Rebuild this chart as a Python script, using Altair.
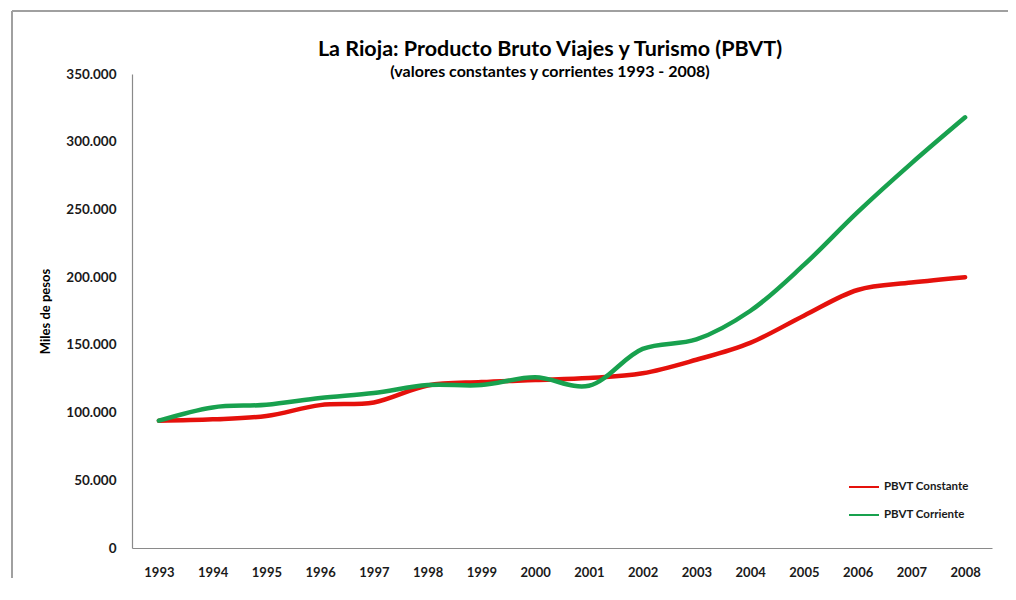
import altair as alt
import pandas as pd

years = [str(y) for y in range(1993, 2009)]
constante = [94000, 95000, 97500, 105500, 107500, 120000, 122500, 124000,
             125500, 129000, 139000, 151500, 171500, 190500, 196000, 200000]
corriente = [94000, 103800, 105800, 110800, 114500, 120300, 120300, 126000,
             119800, 147000, 154000, 175000, 209000, 248000, 284000, 318000]
series_names = ["PBVT Constante", "PBVT Corriente"]
series_colors = ["#E5110C", "#18A14E"]

rows = []
for name, vals in zip(series_names, [constante, corriente]):
    for y, v in zip(years, vals):
        rows.append({"Año": y, "Valor": v, "Serie": name})
df = pd.DataFrame(rows)

FONT = "Lato"

lines = alt.Chart(df).mark_line(
    interpolate="catmull-rom", strokeWidth=4.5, strokeCap="round", strokeJoin="round"
).encode(
    x=alt.X("Año:O", sort=years, scale=alt.Scale(paddingOuter=0.5),
            axis=alt.Axis(title=None, labelAngle=0, ticks=False, labelPadding=18,
                          labelFontSize=13, labelFontWeight="bold", labelColor="#1a1a1a",
                          domainColor="#8a8a8a", domainWidth=1.2)),
    y=alt.Y("Valor:Q", scale=alt.Scale(domain=[0, 350000], nice=False),
            axis=alt.Axis(title="Miles de pesos", values=list(range(0, 350001, 50000)),
                          labelExpr="replace(format(datum.value, ','), ',', '.')",
                          ticks=False, grid=False, labelPadding=16,
                          labelFontSize=13.5, labelFontWeight="bold", labelColor="#1a1a1a",
                          domainColor="#8a8a8a", domainWidth=1.2,
                          titleFontSize=13, titleFontWeight="bold", titleColor="#000000",
                          titleAngle=270, titleX=-87, titleY=237,
                          titleAlign="center", titleBaseline="middle")),
    color=alt.Color("Serie:N", scale=alt.Scale(domain=series_names, range=series_colors),
                    legend=alt.Legend(title=None, orient="none", legendX=716, legendY=397,
                                      symbolType="stroke", symbolSize=900,
                                      symbolStrokeWidth=2, rowPadding=6,
                                      labelFontSize=11.5, labelFontWeight="bold",
                                      labelColor="#1a1a1a", labelOffset=4)),
)

frame_top = alt.Chart(df).mark_rule(color="#a0a0a0", strokeWidth=1.5, clip=False).encode(
    x=alt.value(-120), x2=alt.value(876), y=alt.value(-63), y2=alt.value(-63)
)
frame_left = alt.Chart(df).mark_rule(color="#a0a0a0", strokeWidth=1.5, clip=False).encode(
    x=alt.value(-120), x2=alt.value(-120), y=alt.value(-63), y2=alt.value(520)
)

chart = alt.layer(frame_top, frame_left, lines).properties(
    width=860, height=474,
    title=alt.TitleParams(
        text="La Rioja: Producto Bruto Viajes y Turismo (PBVT)",
        subtitle="(valores constantes y corrientes 1993 - 2008)",
        anchor="middle", frame="group", dx=-12, offset=-70,
        fontSize=21.5, fontWeight="bold", color="#000000", font=FONT,
        subtitleFontSize=16, subtitleFontWeight="bold", subtitleColor="#000000",
        subtitleFont=FONT, subtitlePadding=4,
    ),
    autosize=alt.AutoSizeParams(type="none"),
    padding={"left": 124, "top": 66, "right": 16, "bottom": 30},
).configure(font=FONT).configure_view(stroke=None)

chart.save("out.html", embed_options={"renderer": "svg", "actions": False})
